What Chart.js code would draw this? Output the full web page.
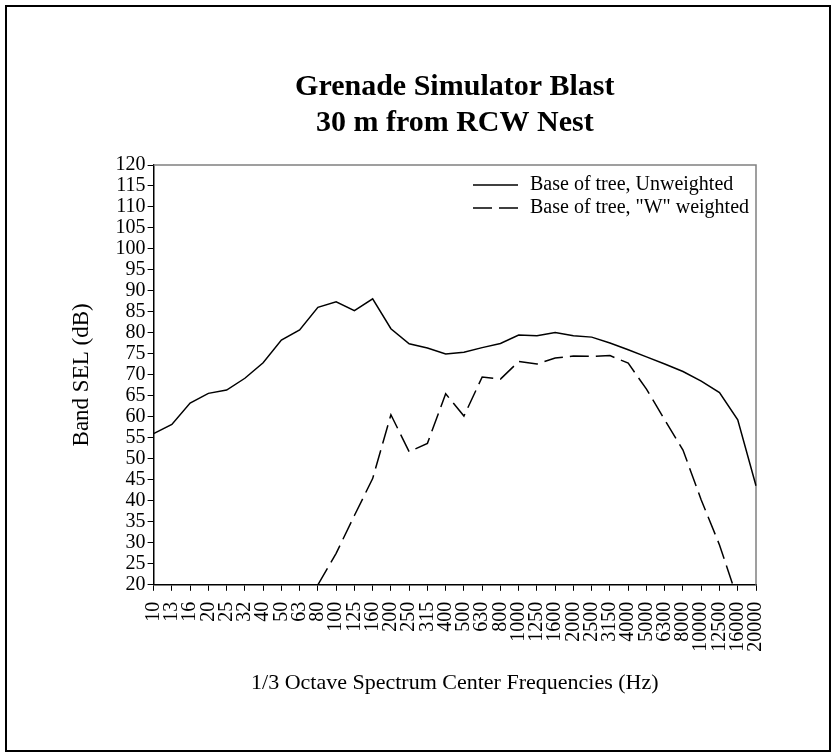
<!DOCTYPE html>
<html>
<head>
<meta charset="utf-8">
<title>Grenade Simulator Blast</title>
<script src="https://cdn.jsdelivr.net/npm/chart.js@4.4.1/dist/chart.umd.min.js"></script>
<style>
    html, body { margin: 0; padding: 0; background: #fff; }
    #chart { display: block; }
</style>
</head>
<body>
<canvas id="chart" width="835" height="755"></canvas>
<script>
// 1/3 octave band centre frequencies (Hz)
const frequencies = ['10', '13', '16', '20', '25', '32', '40', '50', '63', '80', '100', '125', '160',
    '200', '250', '315', '400', '500', '630', '800', '1000', '1250', '1600', '2000', '2500', '3150',
    '4000', '5000', '6300', '8000', '10000', '12500', '16000', '20000'];

// Band SEL (dB), base of tree
const unweighted = [56.0, 58.2, 63.3, 65.6, 66.4, 69.2, 72.9, 78.3, 80.7, 86.1, 87.4, 85.3, 88.1,
    81.0, 77.4, 76.4, 75.0, 75.4, 76.5, 77.5, 79.5, 79.3, 80.1, 79.3, 79.0, 77.6,
    76.0, 74.3, 72.6, 70.8, 68.5, 65.8, 59.3, 43.6];

const wWeighted = [null, null, null, null, null, null, null, null, null, 20.0, 27.5, 36.5, 45.3,
    60.5, 51.7, 53.7, 65.5, 60.2, 69.5, 69.0, 73.2, 72.6, 74.0, 74.5, 74.4, 74.6,
    72.8, 66.6, 59.3, 52.1, 40.2, 29.5, 16.5, null];

const seriesLabels = ['Base of tree, Unweighted', 'Base of tree, "W" weighted'];
const titleLines = ['Grenade Simulator Blast', '30 m from RCW Nest'];
const yMin = 20, yMax = 120, yStep = 5;

Chart.defaults.font.family = '"Liberation Serif", "Times New Roman", serif';
Chart.defaults.color = '#000';

// outer frame, grey top/right edges of the plot box, legend inside the plot
const chartDecor = {
    id: 'chartDecor',
    afterLayout(chart) {
        // centre the title over the plot, not over the whole canvas
        const t = chart.titleBlock;
        t.left = chart.chartArea.left;
        t.right = chart.chartArea.right;
    },
    beforeDatasetsDraw(chart) {
        const { ctx, chartArea } = chart;
        ctx.save();
        ctx.strokeStyle = '#808080';
        ctx.lineWidth = 1.5;
        ctx.beginPath();
        ctx.moveTo(chartArea.left, chartArea.top);
        ctx.lineTo(chartArea.right, chartArea.top);
        ctx.lineTo(chartArea.right, chartArea.bottom);
        ctx.stroke();
        ctx.restore();
    },
    afterDraw(chart) {
        const { ctx, chartArea } = chart;
        ctx.save();
        ctx.font = '20px "Liberation Serif"';
        ctx.textBaseline = 'middle';
        chart.data.datasets.forEach((ds, i) => {
            const y = chartArea.top + 20 + i * 23;
            const x0 = chartArea.right - 283;
            ctx.beginPath();
            ctx.setLineDash(ds.borderDash || []);
            ctx.lineWidth = ds.borderWidth;
            ctx.strokeStyle = ds.borderColor;
            ctx.moveTo(x0, y);
            ctx.lineTo(x0 + 45, y);
            ctx.stroke();
            ctx.setLineDash([]);
            ctx.fillStyle = '#000';
            ctx.fillText(ds.label, x0 + 57, y);
        });
        ctx.strokeStyle = '#000';
        ctx.lineWidth = 2;
        ctx.strokeRect(6, 6, 824, 745);
        ctx.restore();
    }
};

new Chart(document.getElementById('chart'), {
    type: 'line',
    data: {
        labels: frequencies,
        datasets: [{
            label: seriesLabels[0],
            data: unweighted,
            borderColor: '#000',
            borderWidth: 1.5,
            pointRadius: 0,
            tension: 0
        }, {
            label: seriesLabels[1],
            data: wWeighted,
            borderColor: '#000',
            borderWidth: 1.5,
            borderDash: [19, 7],
            pointRadius: 0,
            tension: 0
        }]
    },
    options: {
        responsive: false,
        animation: false,
        events: [],
        layout: { padding: { left: 0, top: 0, bottom: 0, right: 79 } },
        plugins: {
            legend: { display: false },
            tooltip: { enabled: false },
            title: {
                display: true,
                text: titleLines,
                color: '#000',
                font: { size: 30, weight: 'bold', lineHeight: 1.2 },
                padding: { top: 69, bottom: 24 }
            }
        },
        scales: {
            x: {
                offset: false,
                grid: { drawOnChartArea: false, drawTicks: true, tickLength: 6, color: '#000', offset: false },
                border: { color: '#000', width: 1.5 },
                ticks: {
                    autoSkip: false,
                    maxRotation: 90,
                    minRotation: 90,
                    padding: 11,
                    color: '#000',
                    font: { size: 20 }
                },
                title: {
                    display: true,
                    text: '1/3 Octave Spectrum Center Frequencies (Hz)',
                    color: '#000',
                    font: { size: 22 },
                    padding: { top: 7, bottom: 58.8 }
                }
            },
            y: {
                min: yMin,
                max: yMax,
                grid: { drawOnChartArea: false, drawTicks: true, tickLength: 6, color: '#000' },
                border: { color: '#000', width: 1.5 },
                ticks: {
                    stepSize: yStep,
                    autoSkip: false,
                    padding: 2,
                    color: '#000',
                    font: { size: 20 }
                },
                title: {
                    display: true,
                    text: 'Band SEL (dB)',
                    color: '#000',
                    font: { size: 23 },
                    padding: { top: 68, bottom: 18 }
                }
            }
        }
    },
    plugins: [chartDecor]
});
</script>
</body>
</html>
